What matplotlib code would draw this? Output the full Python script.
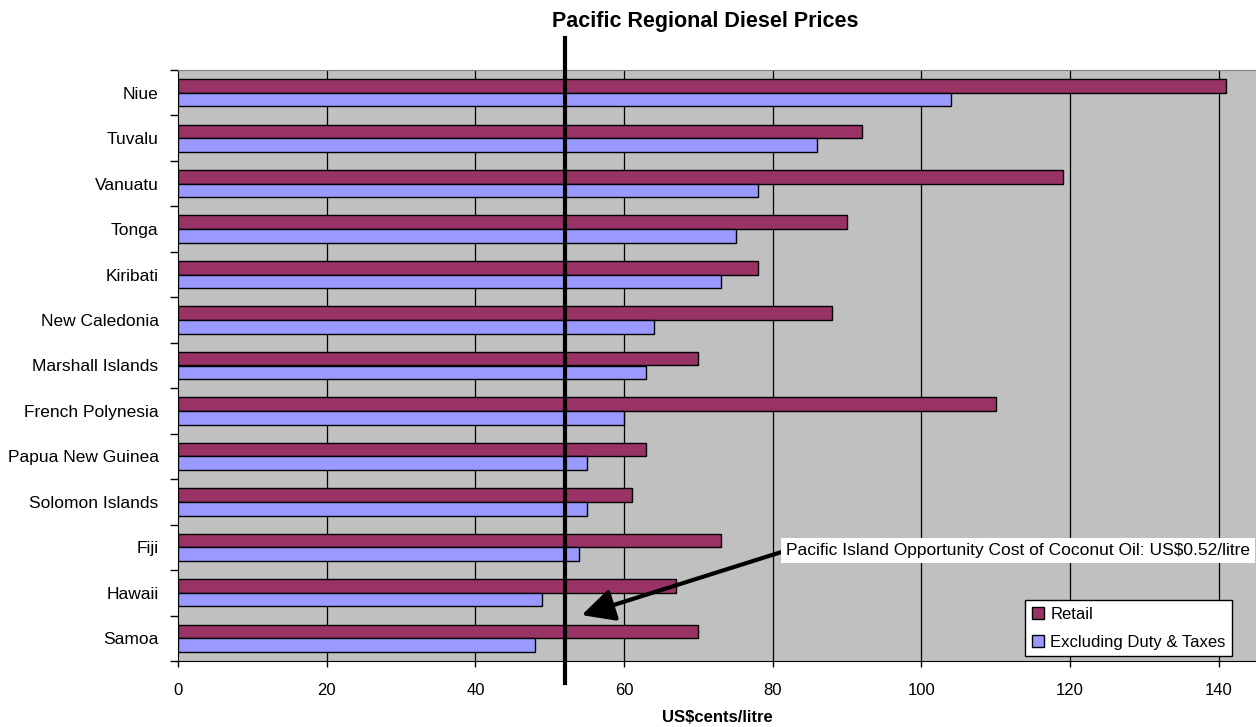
import numpy as np
import matplotlib
matplotlib.use('Agg')
import matplotlib.pyplot as plt
import matplotlib.transforms as mtransforms

plt.rcParams['font.family'] = ['Liberation Sans', 'DejaVu Sans']

# diesel prices, US cents per litre (bottom to top)
countries = ['Samoa', 'Hawaii', 'Fiji', 'Solomon Islands', 'Papua New Guinea',
             'French Polynesia', 'Marshall Islands', 'New Caledonia', 'Kiribati',
             'Tonga', 'Vanuatu', 'Tuvalu', 'Niue']
retail = [70, 67, 73, 61, 63, 110, 70, 88, 78, 90, 119, 92, 141]
excl_duty = [48, 49, 54, 55, 55, 60, 63, 64, 73, 75, 78, 86, 104]
coconut_cost = 52
xticks = [0, 20, 40, 60, 80, 100, 120, 140]

fig = plt.figure(figsize=(12.56, 7.27), dpi=100)
ax = fig.add_axes([178 / 1256, 66 / 727, 1 - 178 / 1256, 591 / 727])
ax.set_facecolor('#C0C0C0')

y = np.arange(len(countries))
h = 0.3
ax.barh(y + h / 2, retail, height=h, color='#993366', edgecolor='black', linewidth=1, label='Retail', zorder=3)
ax.barh(y - h / 2, excl_duty, height=h, color='#9999FF', edgecolor='black', linewidth=1,
        label='Excluding Duty & Taxes', zorder=3)

ax.set_xlim(0, 145)
ax.set_ylim(-0.5, len(countries) - 0.5)

# vertical gridlines
for t in xticks[1:]:
    ax.axvline(t, color='black', linewidth=0.9, zorder=1)

ax.set_xticks(xticks)
ax.set_xticklabels([str(t) for t in xticks], fontsize=12)
ax.tick_params(axis='x', length=4, width=1, pad=12)

ax.set_yticks(y)
ax.set_yticklabels(countries, fontsize=12.5)
ax.tick_params(axis='y', which='major', length=0, pad=14)
ax.set_yticks(np.arange(-0.5, len(countries)), minor=True)
ax.tick_params(axis='y', which='minor', length=6, width=1)

ax.spines['right'].set_visible(False)
ax.spines['top'].set_color('#808080')
ax.spines['left'].set_color('black')
ax.spines['bottom'].set_color('black')

# thick line at coconut oil cost, running past the plot area
trans = mtransforms.blended_transform_factory(ax.transData, ax.transAxes)
ax.plot([coconut_cost, coconut_cost], [-0.037, 1.054], color='black', linewidth=3,
        transform=trans, clip_on=False, zorder=5)

ax.annotate('Pacific Island Opportunity Cost of Coconut Oil: US$0.52/litre',
            xy=(54.3, 0.51), xytext=(81.8, 1.93), fontsize=12.5, ha='left', va='center',
            bbox=dict(boxstyle='square,pad=0.3', facecolor='white', edgecolor='none'),
            arrowprops=dict(arrowstyle='-|>,head_length=0.9,head_width=0.45', color='black',
                            linewidth=3, shrinkA=0, shrinkB=0, relpos=(0, 0.5),
                            mutation_scale=22),
            zorder=6)

leg = ax.legend(loc='lower right', bbox_to_anchor=(0.978, 0.008), borderaxespad=0,
                fontsize=12, fancybox=False, framealpha=1, edgecolor='black',
                handlelength=0.7, handleheight=0.7, handletextpad=0.4, labelspacing=0.75)
leg.get_frame().set_linewidth(1)
leg.set_zorder(7)

fig.text(705 / 1256, 1 - 21 / 727, 'Pacific Regional Diesel Prices', fontsize=15.5,
         fontweight='bold', ha='center', va='center')
fig.text(717 / 1256, 1 - 718 / 727, 'US$cents/litre', fontsize=12, fontweight='bold',
         ha='center', va='center')

plt.savefig('out.png', dpi=100)
